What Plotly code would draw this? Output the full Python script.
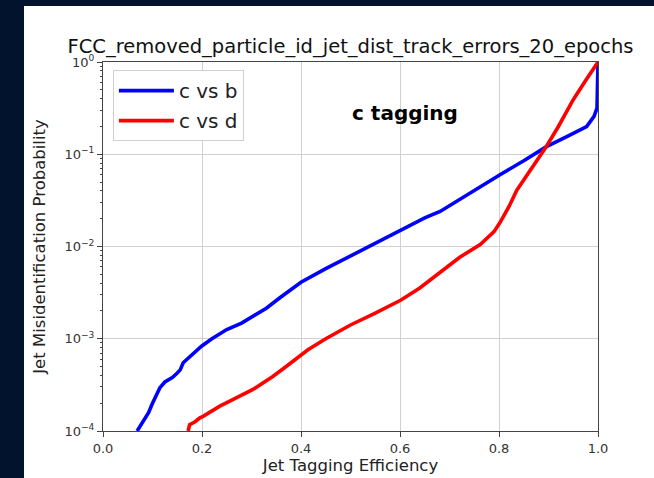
import plotly.graph_objects as go

# ---- data ----
eff_cb = [0.069, 0.080, 0.092, 0.100, 0.108, 0.115, 0.125, 0.140, 0.150, 0.156,
          0.162, 0.175, 0.190, 0.199, 0.220, 0.250, 0.280, 0.303, 0.330, 0.358,
          0.400, 0.450, 0.500, 0.550, 0.602, 0.650, 0.681, 0.720, 0.762, 0.802,
          0.850, 0.895, 0.940, 0.977, 0.992, 0.998, 1.000]
mis_cb = [1.0e-4, 1.26e-4, 1.58e-4, 2.0e-4, 2.5e-4, 2.95e-4, 3.4e-4, 3.8e-4, 4.25e-4, 4.6e-4,
          5.5e-4, 6.3e-4, 7.4e-4, 8.3e-4, 1.0e-3, 1.26e-3, 1.48e-3, 1.74e-3, 2.14e-3, 2.8e-3,
          4.1e-3, 5.75e-3, 7.9e-3, 1.1e-2, 1.51e-2, 2.04e-2, 2.4e-2, 3.24e-2, 4.47e-2, 6.0e-2,
          8.5e-2, 0.12, 0.158, 0.20, 0.257, 0.316, 1.0]

eff_cd = [0.172, 0.175, 0.186, 0.195, 0.203, 0.220, 0.236, 0.255, 0.277, 0.303,
          0.320, 0.343, 0.370, 0.398, 0.414, 0.450, 0.500, 0.550, 0.602, 0.640,
          0.681, 0.720, 0.762, 0.790, 0.802, 0.820, 0.836, 0.860, 0.895, 0.920,
          0.950, 0.975, 1.000]
mis_cd = [1.0e-4, 1.17e-4, 1.26e-4, 1.38e-4, 1.45e-4, 1.66e-4, 1.86e-4, 2.09e-4, 2.4e-4, 2.82e-4,
          3.24e-4, 3.9e-4, 5.0e-4, 6.45e-4, 7.6e-4, 1.0e-3, 1.41e-3, 1.9e-3, 2.63e-3, 3.55e-3,
          5.25e-3, 7.6e-3, 1.05e-2, 1.45e-2, 1.82e-2, 2.7e-2, 4.07e-2, 6.3e-2, 0.12, 0.20,
          0.39, 0.63, 1.0]

x_ticks = [0.0, 0.2, 0.4, 0.6, 0.8, 1.0]
x_tick_labels = ["0.0", "0.2", "0.4", "0.6", "0.8", "1.0"]
y_ticks = [1e-4, 1e-3, 1e-2, 1e-1, 1.0]
y_tick_labels = ["10<sup>−4</sup>", "10<sup>−3</sup>", "10<sup>−2</sup>",
                 "10<sup>−1</sup>", "10<sup>0</sup>"]

title_text = "FCC_removed_particle_id_jet_dist_track_errors_20_epochs"
series_names = ["c vs b", "c vs d"]

FONT = "DejaVu Sans"
W, H = 654, 478
L, R, T, B = 103, 56, 62, 46.5
pw = W - L - R
ph = H - T - B

fig = go.Figure()
fig.add_trace(go.Scatter(x=eff_cb, y=mis_cb, mode="lines", name=series_names[0],
                         line=dict(color="#0000ff", width=3.6), legendgroup="a"))
fig.add_trace(go.Scatter(x=eff_cd, y=mis_cd, mode="lines", name=series_names[1],
                         line=dict(color="#ff0000", width=3.6), legendgroup="b"))

# white panel on dark page
fig.add_shape(type="rect", xref="paper", yref="paper", layer="below",
              x0=(24 - L) / pw, x1=(W + 5 - L) / pw,
              y0=-(B + 5) / ph, y1=(H - B - 6) / ph,
              fillcolor="white", line_width=0)

fig.add_annotation(text="<b>c tagging</b>", xref="paper", yref="paper",
                   x=(405 - L) / pw, y=(H - B - 113) / ph, showarrow=False,
                   xanchor="center", yanchor="middle",
                   font=dict(family=FONT, size=20, color="black"))

fig.update_layout(
    width=W, height=H,
    margin=dict(l=L, r=R, t=T, b=B, pad=0),
    paper_bgcolor="#02132e", plot_bgcolor="white",
    font=dict(family=FONT, color="#222"),
    title=dict(text=title_text, x=(L + pw / 2) / W, xanchor="center",
               y=1 - 46 / H, yanchor="middle", yref="container",
               font=dict(family=FONT, size=19.5, color="#111")),
    showlegend=True,
    legend=dict(x=0.02, y=0.978, xanchor="left", yanchor="top",
                bgcolor="white", bordercolor="#d0d0d0", borderwidth=1,
                font=dict(family=FONT, size=20, color="#222"),
                tracegroupgap=1, itemwidth=55),
    xaxis=dict(range=[0, 1], tickvals=x_ticks, ticktext=x_tick_labels,
               automargin=False,
               showgrid=True, gridcolor="#d0d0d0", gridwidth=1,
               ticks="outside", ticklen=5, tickcolor="#444",
               showline=True, linecolor="#444", linewidth=1, mirror=True,
               zeroline=False, tickfont=dict(size=13, color="#333"),
               title=dict(text="Jet Tagging Efficiency", standoff=4,
                          font=dict(size=16.5, color="#222"))),
    yaxis=dict(type="log", range=[-4, 0], tickvals=y_ticks, ticktext=y_tick_labels,
               automargin=False,
               showgrid=True, gridcolor="#d0d0d0", gridwidth=1,
               ticks="outside", ticklen=5, tickcolor="#444",
               minor=dict(ticks="outside", ticklen=2.5, tickcolor="#444", showgrid=False,
                          dtick="D1"),
               showline=True, linecolor="#444", linewidth=1, mirror=True,
               zeroline=False, tickfont=dict(size=13, color="#333"),
               title=dict(text="Jet Misidentification Probability", standoff=14,
                          font=dict(size=16.5, color="#222"))),
)

fig.write_html("out.html")
